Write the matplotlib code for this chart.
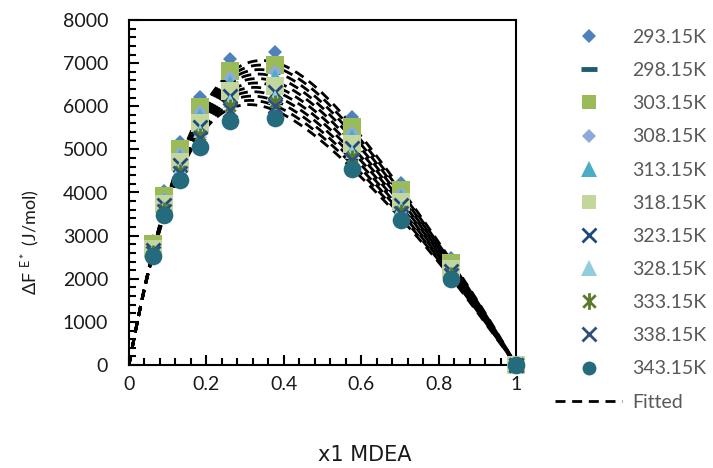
import numpy as np
import matplotlib
matplotlib.use("Agg")
import matplotlib.pyplot as plt
from matplotlib.path import Path
from matplotlib.lines import Line2D
from matplotlib.ticker import MultipleLocator

plt.rcParams['font.family'] = ['Lato', 'DejaVu Sans']
plt.rcParams['mathtext.default'] = 'regular'

# Mole fraction of MDEA
x1 = [0.062, 0.091, 0.132, 0.184, 0.262, 0.377, 0.576, 0.703, 0.831, 1.0]

temps = ["293.15K", "298.15K", "303.15K", "308.15K", "313.15K", "318.15K",
         "323.15K", "328.15K", "333.15K", "338.15K", "343.15K"]

# Excess free energy of activation, J/mol
F_293 = [2880, 4030, 5180, 6220, 7095, 7260, 5760, 4230, 2470, 0]
F_298 = [2845, 3975, 5091, 6103, 6952, 7107, 5638, 4144, 2422, 0]
F_303 = [2810, 3920, 5002, 5986, 6808, 6954, 5516, 4058, 2374, 0]
F_308 = [2771, 3860, 4904, 5857, 6650, 6786, 5382, 3963, 2321, 0]
F_313 = [2750, 3826, 4851, 5787, 6564, 6694, 5309, 3912, 2292, 0]
F_318 = [2698, 3744, 4717, 5612, 6349, 6464, 5126, 3783, 2220, 0]
F_323 = [2670, 3700, 4646, 5518, 6234, 6342, 5028, 3714, 2182, 0]
F_328 = [2642, 3656, 4575, 5424, 6119, 6220, 4930, 3645, 2144, 0]
F_333 = [2614, 3612, 4504, 5331, 6004, 6097, 4833, 3576, 2105, 0]
F_338 = [2593, 3579, 4450, 5261, 5918, 6005, 4760, 3525, 2076, 0]
F_343 = [2530, 3480, 4290, 5050, 5660, 5730, 4540, 3370, 1990, 0]

# Redlich-Kister coefficients A0..A4 of the fitted curves
rk_293 = [25200, -17151, 7830, 651, -530]
rk_298 = [24750, -16934, 8210, 234, -660]
rk_303 = [24300, -16718, 8590, -182, -790]
rk_308 = [23850, -16501, 8971, -599, -921]
rk_313 = [23400, -16284, 9351, -1016, -1051]
rk_318 = [22950, -16068, 9731, -1433, -1181]
rk_323 = [22500, -15851, 10111, -1849, -1311]
rk_328 = [22050, -15634, 10491, -2266, -1441]
rk_333 = [21600, -15417, 10872, -2683, -1572]
rk_338 = [21150, -15201, 11252, -3099, -1702]
rk_343 = [20700, -14984, 11632, -3516, -1832]

series = [F_293, F_298, F_303, F_308, F_313, F_318,
          F_323, F_328, F_333, F_338, F_343]
rk_sets = [rk_293, rk_298, rk_303, rk_308, rk_313, rk_318,
           rk_323, rk_328, rk_333, rk_338, rk_343]

# asterisk marker: x with a vertical bar
star = Path([(0, -1), (0, 1), (-0.75, -0.75), (0.75, 0.75), (-0.75, 0.75), (0.75, -0.75)],
            [Path.MOVETO, Path.LINETO] * 3)

# marker, colour, plot size, legend size, edge width
styles = [
    ('D', '#4F81BD', 6.8, 6.8, 0.0),
    ('_', '#1F5C6D', 11, 11, 3.5),
    ('s', '#9BBB59', 12.5, 10.5, 0.0),
    ('D', '#8EAADB', 6.8, 6.8, 0.0),
    ('^', '#4BACC6', 10, 11, 0.0),
    ('s', '#C3D69B', 12.5, 10.5, 0.0),
    ('x', '#1F497D', 10, 10, 2.0),
    ('^', '#92CDDC', 10, 11, 0.0),
    (star, '#5A7A2A', 10, 12, 2.0),
    ('x', '#2E4F7F', 10, 10, 2.0),
    ('o', '#256B7E', 12.7, 10, 0.0),
]

dash = (0, (3.6, 2.4))

fig = plt.figure(figsize=(7.13, 4.68), dpi=100)
ax = fig.add_axes([129 / 713, 1 - 365 / 468, (516 - 129) / 713, (365 - 20) / 468])

xs = np.linspace(0.0, 1.0, 400)
z = 2 * xs - 1
for coeffs in rk_sets:
    poly = sum(a * z ** k for k, a in enumerate(coeffs))
    ax.plot(xs, xs * (1 - xs) * poly, color='black', lw=2.0, linestyle=dash,
            zorder=2, dash_capstyle='butt')

handles = []
for vals, lab, (mk, col, ms, lms, mew) in zip(series, temps, styles):
    ax.plot(x1, vals, linestyle='none', marker=mk, ms=ms, color=col,
            markeredgewidth=mew, zorder=3, clip_on=False)
    handles.append(Line2D([], [], linestyle='none', marker=mk, ms=lms, color=col,
                          markeredgewidth=mew))
handles.append(Line2D([], [], color='black', lw=2.0, linestyle=dash))
labels = temps + ["Fitted"]

ax.set_xlim(0, 1)
ax.set_ylim(0, 8000)
ax.xaxis.set_minor_locator(MultipleLocator(0.04))
ax.yaxis.set_major_locator(MultipleLocator(1000))
ax.yaxis.set_minor_locator(MultipleLocator(200))
ax.set_xticks([0, 0.2, 0.4, 0.6, 0.8, 1.0])
ax.set_xticklabels(['0', '0.2', '0.4', '0.6', '0.8', '1'])

ax.tick_params(which='both', direction='in', width=1.5, colors='black',
               labelsize=14, labelcolor='#1a1a1a')
ax.tick_params(which='major', length=7)
ax.tick_params(which='minor', length=5)
ax.tick_params(axis='y', pad=15)
ax.tick_params(axis='x', pad=8)
for sp in ax.spines.values():
    sp.set_linewidth(1.5)

fig.text(30 / 713, 1 - 242 / 468, 'ΔF $^{E*}$ (J/mol)', rotation=90,
         ha='center', va='center', fontsize=13, color='#1a1a1a')
fig.text(365 / 713, 1 - 455 / 468, 'x1 MDEA', ha='center', va='center',
         fontsize=15, color='#1a1a1a', family='DejaVu Sans')

fig.legend(handles, labels, loc='upper left', bbox_to_anchor=(555 / 713, 1 - 29 / 468),
           frameon=False, fontsize=14, labelcolor='#595959', handlelength=3.45,
           handletextpad=0.5, labelspacing=0.83, borderpad=0, borderaxespad=0)

fig.savefig('out.png', dpi=100)
